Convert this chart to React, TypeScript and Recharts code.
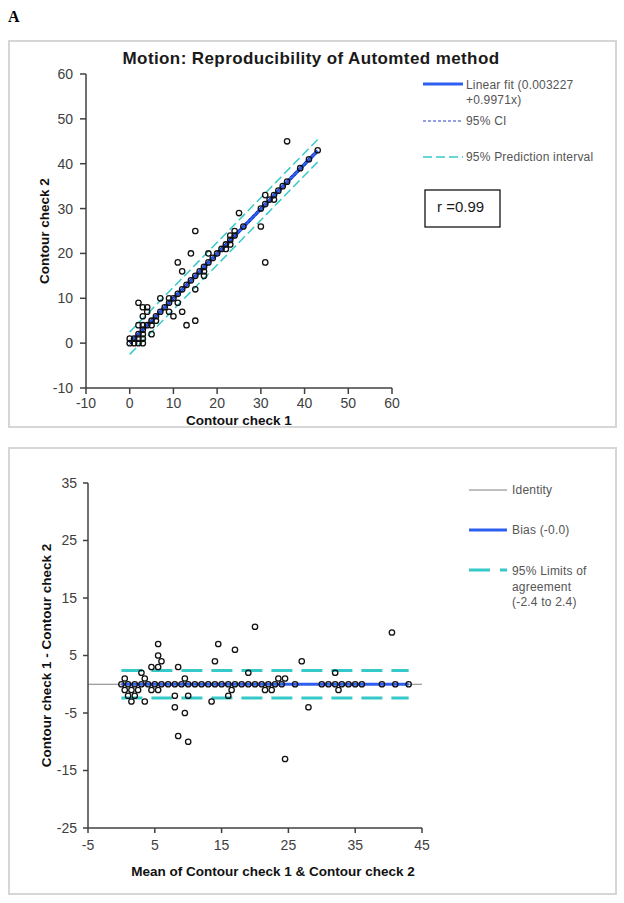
import { ScatterChart, Scatter, XAxis, YAxis, ReferenceLine, Label } from 'recharts';

const FONT = '"Liberation Sans", Arial, sans-serif';
const BLUE = '#2f5ff0';
const CYAN = '#36c9c9';
const AXIS = '#404040';

// Panel 1: contour check 1 vs contour check 2
const check1 = [
  0, 1, 2, 3, 4, 5, 6, 7, 8, 9, 10, 11, 12, 13, 14, 15, 16, 17, 18, 19, 20, 21, 22, 23, 24, 26, 30, 31, 32, 33, 34, 35, 36, 39, 41, 43,
  0, 1, 2, 2, 3, 3, 3, 2, 3, 5, 3, 5, 2, 3, 4, 4, 6, 9, 10, 7, 13, 9, 12, 11, 15, 15, 12, 11, 17, 17, 14, 18, 15, 22, 23, 23, 24, 31, 25, 30, 31, 33, 36,
];
const check2 = [
  0, 1, 2, 3, 4, 5, 6, 7, 8, 9, 10, 11, 12, 13, 14, 15, 16, 17, 18, 19, 20, 21, 22, 23, 24, 26, 30, 31, 32, 33, 34, 35, 36, 39, 41, 43,
  1, 0, 0, 1, 0, 1, 2, 4, 4, 2, 6, 4, 9, 8, 7, 8, 5, 7, 6, 10, 4, 10, 7, 9, 5, 12, 16, 18, 15, 16, 20, 20, 25, 21, 22, 24, 25, 18, 29, 26, 33, 32, 45,
];
const topTicks = [-10, 0, 10, 20, 30, 40, 50, 60];

// fitted line and bands, at x = 0 and x = 43
const lineEnds = [0, 43];
const fitY = [0.003, 42.88];
const ciLow = [-0.3, 42.5];
const ciHigh = [0.3, 43.3];
const piLow = [-2.5, 40.4];
const piHigh = [2.5, 45.4];

// Panel 2: Bland-Altman
const meanVals = [
  0, 1, 2, 3, 4, 5, 6, 7, 8, 9, 10, 11, 12, 13, 14, 15, 16, 17, 18, 19, 20, 21, 22, 23, 24, 26, 30, 31, 32, 33, 34, 35, 36, 39, 41, 43,
  0.5, 0.5, 1, 1.5, 1.5, 2, 2.5, 3, 3.5, 3.5, 4.5, 4.5, 5.5, 5.5, 5.5, 6, 5.5, 8, 8, 8.5, 8.5, 9.5, 9.5, 10, 10, 13.5, 14, 14.5, 16, 16.5,
  17, 19, 20, 21.5, 22.5, 23.5, 24.5, 24.5, 27, 28, 32, 32.5, 40.5,
];
const diffVals = [
  0, 0, 0, 0, 0, 0, 0, 0, 0, 0, 0, 0, 0, 0, 0, 0, 0, 0, 0, 0, 0, 0, 0, 0, 0, 0, 0, 0, 0, 0, 0, 0, 0, 0, 0, 0,
  1, -1, -2, -1, -3, -2, -1, 2, 1, -3, 3, -1, 7, 5, 3, 4, -1, -2, -4, 3, -9, 1, -5, -2, -10, -3, 4, 7, -2, -1,
  6, 2, 10, -1, -1, 1, 1, -13, 4, -4, 2, -1, 9,
];
const baTicksX = [-5, 5, 15, 25, 35, 45];
const baTicksY = [-25, -15, -5, 5, 15, 25, 35];
const identityEnds = [-5, 45];
const bias = -0.0;
const limits = [-2.4, 2.4];

const toPoints = (xs: number[], ys: number[]) => xs.map((x, i) => ({ x, y: ys[i] }));
const seg = (xs: number[], ys: number[]) => [{ x: xs[0], y: ys[0] }, { x: xs[1], y: ys[1] }];

const Ring = (p: any) => <circle cx={p.cx} cy={p.cy} r={2.7} fill="none" stroke="#111" strokeWidth={1.3} />;

const tickStyle = { fill: AXIS, fontSize: 14, fontFamily: FONT };
const axisStyle = { stroke: AXIS, strokeWidth: 1.5 };
const labelStyle = { fill: '#111', fontSize: 13.5, fontWeight: 'bold' as const, fontFamily: FONT };

function Frame({ top, height }: { top: number; height: number }) {
  return (
    <div
      style={{
        position: 'absolute', left: 8, top, width: 609, height, boxSizing: 'border-box',
        border: '2px solid #d6d6d6', background: '#fff',
      }}
    />
  );
}

export default function App() {
  const scatterData = toPoints(check1, check2);
  const baData = toPoints(meanVals, diffVals);

  return (
    <div style={{ position: 'absolute', left: 0, top: 0, width: 624, height: 903, background: '#fff' }}>
      <Frame top={40} height={388} />
      <Frame top={447} height={448} />

      <div style={{ position: 'absolute', left: 8, top: 40 }}>
        <ScatterChart width={609} height={388} margin={{ top: 34, right: 225, bottom: 3, left: 28 }}>
          <XAxis type="number" dataKey="x" domain={[-10, 60]} ticks={topTicks} height={37}
            tick={tickStyle} axisLine={axisStyle} tickLine={axisStyle} tickSize={6} tickMargin={4}>
            <Label value="Contour check 1" position="insideBottom" offset={0} style={labelStyle} />
          </XAxis>
          <YAxis type="number" dataKey="y" domain={[-10, 60]} ticks={topTicks} width={50}
            tick={tickStyle} axisLine={axisStyle} tickLine={axisStyle} tickSize={6} tickMargin={7}>
            <Label value="Contour check 2" angle={-90} position="insideLeft" offset={8}
              style={{ ...labelStyle, textAnchor: 'middle' }} />
          </YAxis>
          <ReferenceLine segment={seg(lineEnds, piLow)} stroke={CYAN} strokeWidth={1.5} strokeDasharray="9 4" />
          <ReferenceLine segment={seg(lineEnds, piHigh)} stroke={CYAN} strokeWidth={1.5} strokeDasharray="9 4" />
          <ReferenceLine segment={seg(lineEnds, fitY)} stroke={BLUE} strokeWidth={3.5} />
          <ReferenceLine segment={seg(lineEnds, ciLow)} stroke="#1a2fb0" strokeWidth={1} strokeDasharray="3 2" />
          <ReferenceLine segment={seg(lineEnds, ciHigh)} stroke="#1a2fb0" strokeWidth={1} strokeDasharray="3 2" />
          <Scatter data={scatterData} shape={Ring} isAnimationActive={false} />
        </ScatterChart>
      </div>

      <div style={{ position: 'absolute', left: 8, top: 447 }}>
        <ScatterChart width={609} height={448} margin={{ top: 36, right: 195, bottom: 19, left: 28 }}>
          <XAxis type="number" dataKey="x" domain={[-5, 45]} ticks={baTicksX} height={48}
            tick={tickStyle} axisLine={axisStyle} tickLine={axisStyle} tickSize={5} tickMargin={7}>
            <Label value="Mean of Contour check 1 & Contour check 2" position="insideBottom" offset={0} dx={18}
              style={labelStyle} />
          </XAxis>
          <YAxis type="number" dataKey="y" domain={[-25, 35]} ticks={baTicksY} width={52}
            tick={tickStyle} axisLine={axisStyle} tickLine={axisStyle} tickSize={5} tickMargin={6}>
            <Label value="Contour check 1 - Contour check 2" angle={-90} position="insideLeft" offset={10}
              style={{ ...labelStyle, textAnchor: 'middle' }} />
          </YAxis>
          <ReferenceLine segment={seg(identityEnds, [0, 0])} stroke="#808080" strokeWidth={1} />
          <ReferenceLine segment={seg(lineEnds, [limits[0], limits[0]])} stroke={CYAN} strokeWidth={3} strokeDasharray="21 9" />
          <ReferenceLine segment={seg(lineEnds, [limits[1], limits[1]])} stroke={CYAN} strokeWidth={3} strokeDasharray="21 9" />
          <ReferenceLine segment={seg(lineEnds, [bias, bias])} stroke={BLUE} strokeWidth={3} />
          <Scatter data={baData} shape={Ring} isAnimationActive={false} />
        </ScatterChart>
      </div>

      <svg width={624} height={903} style={{ position: 'absolute', left: 0, top: 0, pointerEvents: 'none' }}>
        <text x={8} y={22} fontFamily='"Liberation Serif", "Times New Roman", serif' fontWeight="bold" fontSize={16} fill="#000">A</text>
        <text x={311} y={64} textAnchor="middle" fontFamily={FONT} fontWeight="bold" fontSize={17}
          letterSpacing={0.4} fill="#1a1a1a">
          Motion: Reproducibility of Automted method
        </text>

        <g fontFamily={FONT} fontSize={12} fill="#555" letterSpacing={0.2}>
          <line x1={423} x2={463} y1={84} y2={84} stroke={BLUE} strokeWidth={3} />
          <text x={466} y={89}>Linear fit (0.003227</text>
          <text x={466} y={103.5}>+0.9971x)</text>
          <line x1={423} x2={463} y1={121} y2={121} stroke="#2a3fd0" strokeWidth={1} strokeDasharray="3 2" />
          <text x={466} y={125}>95% CI</text>
          <line x1={423} x2={463} y1={157} y2={157} stroke={CYAN} strokeWidth={1.5} strokeDasharray="9 4" />
          <text x={466} y={161}>95% Prediction interval</text>
        </g>
        <rect x={425} y={190} width={75} height={37} fill="#fff" stroke="#000" strokeWidth={1.2} />
        <text x={437} y={212} fontFamily={FONT} fontSize={15} fill="#1a1a1a">r =0.99</text>

        <g fontFamily={FONT} fontSize={12} fill="#555" letterSpacing={0.2}>
          <line x1={469} x2={507} y1={490} y2={490} stroke="#808080" strokeWidth={1} />
          <text x={512} y={494}>Identity</text>
          <line x1={469} x2={507} y1={530} y2={530} stroke={BLUE} strokeWidth={3} />
          <text x={512} y={534}>Bias (-0.0)</text>
          <line x1={469} x2={507} y1={570} y2={570} stroke={CYAN} strokeWidth={3} strokeDasharray="21 10" />
          <text x={512} y={575}>95% Limits of</text>
          <text x={512} y={590.5}>agreement</text>
          <text x={512} y={606}>(-2.4 to 2.4)</text>
        </g>
      </svg>
    </div>
  );
}
